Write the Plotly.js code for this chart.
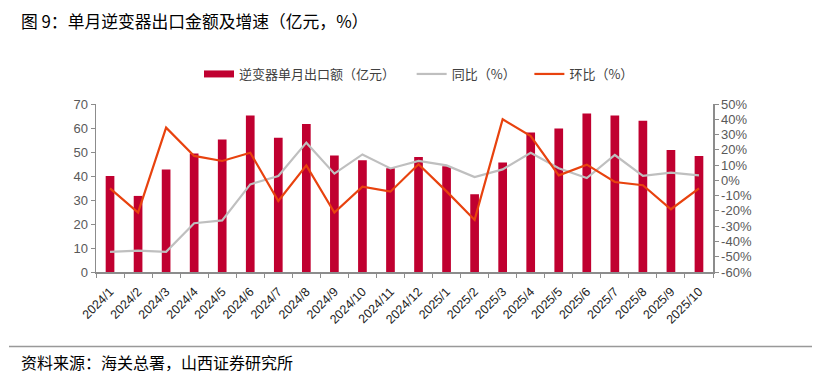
<!DOCTYPE html>
<html>
<head>
<meta charset="utf-8">
<script src="https://cdn.plot.ly/plotly-3.0.1.min.js"></script>
<style>
  html, body { margin: 0; padding: 0; background: #fff; }
  #chart { width: 830px; height: 373px; }
</style>
</head>
<body>
<div id="chart"></div>
<script>
// ---- data ----
const months = ["2024/1","2024/2","2024/3","2024/4","2024/5","2024/6","2024/7","2024/8","2024/9","2024/10","2024/11","2024/12",
                "2025/1","2025/2","2025/3","2025/4","2025/5","2025/6","2025/7","2025/8","2025/9","2025/10"];
const exportValue = [40.0, 31.7, 42.7, 49.4, 55.2, 65.2, 55.9, 61.7, 48.5, 46.6, 43.2, 47.9,
                     44.1, 32.4, 45.6, 58.1, 59.8, 66.0, 65.2, 63.0, 50.8, 48.3];
const yoy = [-46.8, -46.0, -46.8, -28.1, -26.2, -2.6, 2.9, 24.7, 4.4, 17.0, 7.8, 12.7,
             9.8, 2.2, 7.2, 18.1, 7.9, 1.5, 16.6, 3.0, 5.0, 3.3];
const mom = [-5.2, -21.1, 34.5, 16.0, 12.7, 18.1, -13.5, 9.8, -21.1, -4.1, -7.4, 10.5,
             -7.2, -25.9, 40.0, 29.0, 3.3, 10.3, -1.1, -3.2, -18.9, -5.2];
const leftTicks = [0,10,20,30,40,50,60,70];
const rightTicks = [50,40,30,20,10,0,-10,-20,-30,-40,-50,-60];

const names = {
  bar: "逆变器单月出口额（亿元）",
  yoy: "同比（%）",
  mom: "环比（%）"
};

const CJK = '"Noto Sans CJK SC", "Noto Sans", sans-serif';
const LAT = 'Arial, "Liberation Sans", "Noto Sans CJK SC", sans-serif';
const PAD4 = "\u00a0\u00a0\u00a0\u00a0";
const PAD3 = "\u00a0\u00a0\u00a0";

const traces = [
  {
    type: "bar", x: months, y: exportValue, name: names.bar,
    marker: {color: "#C00030"}, yaxis: "y", showlegend: false
  },
  // legend swatch for the bar series (wide rectangle, as in the original)
  {
    type: "scatter", mode: "lines", x: [months[0]], y: [null], name: names.bar + PAD4,
    line: {color: "#C00030", width: 7}, yaxis: "y", legendrank: 1
  },
  {
    type: "scatter", mode: "lines", x: months, y: yoy, name: names.yoy + PAD3,
    line: {color: "#BFBFBF", width: 2.2}, yaxis: "y2", legendrank: 2
  },
  {
    type: "scatter", mode: "lines", x: months, y: mom, name: names.mom,
    line: {color: "#E8420E", width: 2.2}, yaxis: "y2", legendrank: 3
  }
];

// helpers: convert pixel positions to paper coords
const L = 96, R = 117, T = 104, B = 101, W = 830, H = 373;
const pw = W - L - R, ph = H - T - B;
const px = x => (x - L) / pw;
const py = y => (H - B - y) / ph;

const layout = {
  width: W, height: H,
  margin: {l: L, r: R, t: T, b: B, pad: 0},
  paper_bgcolor: "#fff", plot_bgcolor: "#fff",
  bargap: 0.69,
  showlegend: true,
  legend: {
    orientation: "h", x: px(199), xanchor: "left", y: py(74), yanchor: "middle",
    font: {family: CJK, size: 13, color: "#404040"},
    itemwidth: 30, tracegroupgap: 0, bgcolor: "rgba(0,0,0,0)"
  },
  title: {
    text: "图 9：单月逆变器出口金额及增速（亿元，%）",
    x: 21 / W, xanchor: "left", xref: "container",
    y: 1 - 22 / H, yanchor: "middle", yref: "container",
    font: {family: CJK, size: 16.8, color: "#000"}
  },
  xaxis: {
    type: "category", tickangle: -45,
    showline: true, linecolor: "#8C8C8C", linewidth: 1.5,
    ticks: "outside", ticklen: 4, tickcolor: "#8C8C8C", tickson: "boundaries",
    showgrid: false, zeroline: false, ticklabelstandoff: 6,
    tickfont: {family: LAT, size: 12.5, color: "#222"}
  },
  yaxis: {
    range: [0, 70], tickvals: leftTicks, ticktext: leftTicks.map(String),
    showline: true, linecolor: "#8C8C8C", linewidth: 1.5,
    ticks: "outside", ticklen: 4, tickcolor: "#8C8C8C",
    showgrid: false, zeroline: false,
    tickfont: {family: LAT, size: 13, color: "#595959"}
  },
  yaxis2: {
    overlaying: "y", side: "right", range: [-60, 50],
    tickvals: rightTicks, ticktext: rightTicks.map(v => v + "%"),
    showline: true, linecolor: "#8C8C8C", linewidth: 1.5,
    ticks: "outside", ticklen: 4, tickcolor: "#8C8C8C",
    showgrid: false, zeroline: false,
    tickfont: {family: LAT, size: 13, color: "#595959"}
  },
  shapes: [
    {type: "line", xref: "paper", yref: "paper",
     x0: px(9), x1: px(812), y0: py(346.5), y1: py(346.5),
     line: {color: "#999999", width: 1.5}}
  ],
  annotations: [
    {text: "资料来源：海关总署，山西证券研究所", xref: "paper", yref: "paper",
     x: px(19), y: py(362), xanchor: "left", yanchor: "middle", showarrow: false,
     font: {family: CJK, size: 16, color: "#000"}}
  ]
};

Plotly.newPlot("chart", traces, layout, {displayModeBar: false, staticPlot: true});
</script>
</body>
</html>
